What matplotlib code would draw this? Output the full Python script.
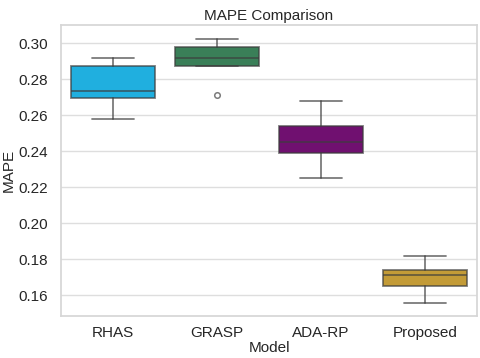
import numpy as np
import matplotlib
matplotlib.use("Agg")
import matplotlib.pyplot as plt
import seaborn as sns

# box statistics
models = ["RHAS", "GRASP", "ADA-RP", "Proposed"]
low_whisker = [0.2578, 0.2876, 0.2253, 0.1557]
q1 = [0.2694, 0.2876, 0.2389, 0.1653]
median = [0.2735, 0.2917, 0.2455, 0.1713]
q3 = [0.2876, 0.2978, 0.2541, 0.1742]
high_whisker = [0.2917, 0.3026, 0.2678, 0.1817]
outliers = [[], [0.2711], [], []]
palette = ["deepskyblue", "seagreen", "purple", "goldenrod"]

sns.set_theme(style="whitegrid", rc={'grid.color': '#dedede', 'axes.edgecolor': '#d6d6d6'})
plt.rcParams['font.family'] = ['Liberation Sans', 'DejaVu Sans']

fig = plt.figure(figsize=(4.8, 3.58), dpi=100)
ax = fig.add_axes([0.127, 0.117, 0.867, 0.813])

stats = []
for i, m in enumerate(models):
    stats.append(dict(label=m, whislo=low_whisker[i], q1=q1[i], med=median[i],
                      q3=q3[i], whishi=high_whisker[i], fliers=outliers[i]))

line_col = (0.24, 0.24, 0.24, 0.68)
bp = ax.bxp(stats, positions=range(len(models)), widths=0.8, patch_artist=True,
            boxprops=dict(edgecolor=line_col, linewidth=1.3),
            medianprops=dict(color=line_col, linewidth=1.3),
            whiskerprops=dict(color=line_col, linewidth=1.3),
            capprops=dict(color=line_col, linewidth=1.3),
            flierprops=dict(marker='o', markersize=4, markerfacecolor='none',
                            markeredgecolor=line_col, markeredgewidth=1.1))
for patch, c in zip(bp['boxes'], palette):
    patch.set_facecolor(sns.desaturate(c, 0.75))

ax.set_xlim(-0.5, 3.5)
ax.set_ylim(0.1485, 0.3102)
ax.set_yticks([0.16, 0.18, 0.20, 0.22, 0.24, 0.26, 0.28, 0.30])
ax.yaxis.set_major_formatter(matplotlib.ticker.FormatStrFormatter('%.2f'))
ax.xaxis.grid(False)
ax.tick_params(labelsize=11, colors='#262626', pad=3)
ax.tick_params(axis='x', pad=1)
ax.set_xlabel("Model", fontsize=11, labelpad=1)
ax.set_ylabel("MAPE", fontsize=11, labelpad=2)
ax.set_title("MAPE Comparison", fontsize=11, pad=4)

fig.savefig("out.png", dpi=100)
